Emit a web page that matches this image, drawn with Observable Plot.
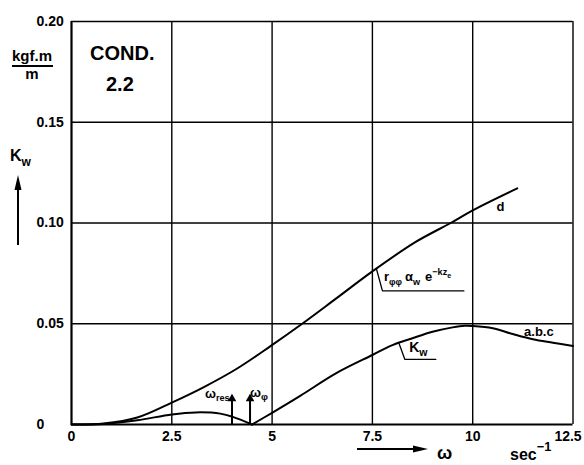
<!DOCTYPE html>
<html>
<head>
<meta charset="utf-8">
<script src="https://cdn.jsdelivr.net/npm/d3@7"></script>
<script src="https://cdn.jsdelivr.net/npm/@observablehq/plot@0.6"></script>
<style>
  body { margin: 0; background: #fff; }
  #chart svg { display: block; overflow: visible; font-family: "Liberation Sans", Arial, sans-serif; font-weight: bold; }
</style>
</head>
<body>
<div id="chart"></div>
<script>
// Axis ticks and their printed labels
const xTicks = [0, 2.5, 5, 7.5, 10, 12.5];
const xTickLabels = ["0", "2.5", "5", "7.5", "10", "12.5"];
const yTicks = [0, 0.05, 0.10, 0.15, 0.20];
const yTickLabels = ["0", "0.05", "0.10", "0.15", "0.20"];

// Curve d: r_φφ · α_w · e^(−k z_e)
const omegaD = [0, 0.8, 1.64, 2.5, 3.3, 4.13, 4.96, 5.75, 6.6, 7.5, 8.57, 9.45, 10, 11.11];
const valueD = [0, 0.0005, 0.0035, 0.0109, 0.0186, 0.0278, 0.0389, 0.05, 0.0626, 0.076, 0.0905, 0.1, 0.1063, 0.1172];

// Curve a.b.c: K_w, below and above the roll frequency ω_φ
const omegaKwLow = [0, 0.8, 1.64, 2.5, 3.1, 3.71, 4.02, 4.5];
const valueKwLow = [0, 0.0003, 0.0021, 0.005, 0.006, 0.0054, 0.0038, 0];
const omegaKwHigh = [4.5, 5, 5.7, 6.6, 7.5, 8, 8.5, 9, 9.5, 9.8, 10, 10.5, 11, 11.5, 12, 12.5];
const valueKwHigh = [0, 0.0058, 0.0142, 0.0255, 0.0345, 0.0394, 0.0428, 0.046, 0.0482, 0.049, 0.0489, 0.0478, 0.0449, 0.0423, 0.0406, 0.039];

// Characteristic frequencies marked with arrows
const markNames = ["res", "φ"];
const markOmega = [4.0, 4.45];
const markHeight = [0.0143, 0.0143];
const markLabelX = [3.34, 4.46];
const markLabelY = [0.013, 0.0136];

// Leader lines from the curves to their labels
const leaderD = [[7.6, 0.0773], [7.75, 0.0663], [9.78, 0.0663]];
const leaderKw = [[8.16, 0.0404], [8.31, 0.0323], [9.08, 0.0323]];

// Curve names
const curveNames = ["d", "a.b.c"];
const curveNameX = [10.69, 11.65];
const curveNameY = [0.1079, 0.0459];

const dataD = omegaD.map((w, i) => ({w, k: valueD[i]}));
const dataKw = [
  ...omegaKwLow.map((w, i) => ({w, k: valueKwLow[i], part: "low"})),
  ...omegaKwHigh.map((w, i) => ({w, k: valueKwHigh[i], part: "high"}))
];
const marks = markNames.map((n, i) => ({n, w: markOmega[i], h: markHeight[i]}));
const toPts = a => a.map(([w, k]) => ({w, k}));

const chart = Plot.plot({
  width: 584,
  height: 465,
  marginLeft: 71,
  marginRight: 11.5,
  marginTop: 21,
  marginBottom: 41,
  x: {domain: [0, 12.5], axis: null},
  y: {domain: [0, 0.2], axis: null},
  style: {background: "white", color: "black"},
  marks: [
    // grid and frame
    Plot.ruleX(xTicks, {x: d => d, stroke: "black", strokeWidth: d => (d === 0 ? 2.2 : 1.4)}),
    Plot.ruleY(yTicks, {y: d => d, stroke: "black", strokeWidth: d => (d === 0 ? 2.2 : 1.4)}),
    // tick labels
    Plot.text(xTicks.slice(0, -1), {x: d => d, frameAnchor: "bottom", lineAnchor: "top", dy: 7,
      text: (d, i) => xTickLabels[i], fontSize: 14, fontWeight: "bold"}),
    Plot.text(xTicks.slice(-1), {x: d => d, frameAnchor: "bottom", lineAnchor: "top", dy: 7, dx: -5,
      text: () => xTickLabels[xTickLabels.length - 1], fontSize: 14, fontWeight: "bold"}),
    Plot.text(yTicks, {y: d => d, frameAnchor: "left", textAnchor: "start", dx: -35,
      text: (d, i) => yTickLabels[i], fontSize: 14, fontWeight: "bold"}),
    // curves
    Plot.line(dataD, {x: "w", y: "k", stroke: "black", strokeWidth: 2, curve: "catmull-rom"}),
    Plot.line(dataKw, {x: "w", y: "k", z: "part", stroke: "black", strokeWidth: 2, curve: "catmull-rom"}),
    // frequency arrows
    Plot.ruleX(marks, {x: "w", y1: 0, y2: "h", stroke: "black", strokeWidth: 2}),
    Plot.dot(marks, {x: "w", y: "h", symbol: "triangle", r: 3.2, fill: "black", stroke: "none", dy: 3}),
    // leaders
    Plot.line(toPts(leaderD), {x: "w", y: "k", stroke: "black", strokeWidth: 1.3}),
    Plot.line(toPts(leaderKw), {x: "w", y: "k", stroke: "black", strokeWidth: 1.3}),
    // curve names
    Plot.text(curveNames, {x: (d, i) => curveNameX[i], y: (d, i) => curveNameY[i], text: d => d,
      fontSize: 13, fontWeight: "bold"})
  ]
});

document.getElementById("chart").append(chart);

const svg = d3.select(chart);
const sx = chart.scale("x"), sy = chart.scale("y");
const X = v => sx.apply(v), Y = v => sy.apply(v);

// text with sub/superscripts: off = baseline shift in em (positive = down), s = relative size
function rich(px, py, parts, size, anchor = "start") {
  const t = svg.append("text")
    .attr("x", px).attr("y", py)
    .attr("font-size", size).attr("font-weight", "bold")
    .attr("text-anchor", anchor).attr("fill", "black");
  let shift = 0;
  for (const p of parts) {
    const off = (p.off || 0) * size;
    t.append("tspan")
      .attr("dy", off - shift)
      .attr("dx", p.gap || 0)
      .attr("font-size", (p.s || 1) * size)
      .text(p.t);
    shift = off;
  }
  return t;
}

// frequency labels
rich(X(markLabelX[0]), Y(markLabelY[0]), [{t: "ω"}, {t: "res", off: 0.25, s: 0.7}], 13);
rich(X(markLabelX[1]), Y(markLabelY[1]), [{t: "ω"}, {t: "φ", off: 0.25, s: 0.75}], 13);

// curve labels along leaders
rich(X(7.8), Y(0.0711), [
  {t: "r"}, {t: "φφ", off: 0.35, s: 0.7},
  {t: "α", gap: 3}, {t: "w", off: 0.35, s: 0.7},
  {t: "e", gap: 5}, {t: "−kz", off: -0.45, s: 0.7}, {t: "e", off: -0.2, s: 0.55}
], 13);
rich(X(8.43), Y(0.0359), [{t: "K"}, {t: "w", off: 0.3, s: 0.75}], 14);

// unit and title block
rich(12, 61, [{t: "kgf.m"}], 15);
svg.append("line").attr("x1", 12).attr("x2", 53).attr("y1", 66).attr("y2", 66)
  .attr("stroke", "black").attr("stroke-width", 2);
rich(32, 79, [{t: "m"}], 15, "middle");
rich(90, 60, [{t: "COND."}], 20);
rich(106, 91, [{t: "2.2"}], 20);

// vertical quantity label with arrow
rich(10, 161, [{t: "K"}, {t: "w", off: 0.3, s: 0.75}], 16);
svg.append("line").attr("x1", 18).attr("x2", 18).attr("y1", 245).attr("y2", 186)
  .attr("stroke", "black").attr("stroke-width", 2);
svg.append("path").attr("d", "M18,175 L21.5,190 L14.5,190 Z").attr("fill", "black");

// horizontal quantity label with arrow
svg.append("line").attr("x1", 357).attr("x2", 418).attr("y1", 449).attr("y2", 449)
  .attr("stroke", "black").attr("stroke-width", 1.8);
svg.append("path").attr("d", "M428,449 L413,452.5 L413,445.5 Z").attr("fill", "black");
rich(437, 459, [{t: "ω"}], 18);
rich(510, 460, [{t: "sec"}, {t: "−1", off: -0.55, s: 0.8}], 16);
</script>
</body>
</html>
